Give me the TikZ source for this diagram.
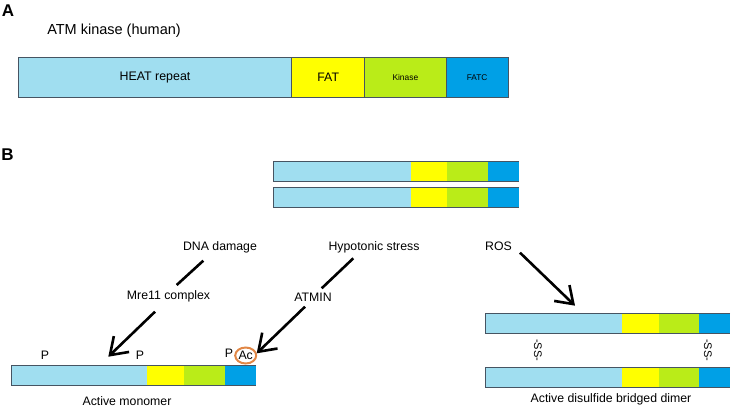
\documentclass[tikz,border=0pt]{standalone}
\usepackage{fontspec}
\setmainfont{Liberation Sans}
\usetikzlibrary{arrows.meta,shapes.geometric}
\definecolor{heat}{RGB}{160,222,240}
\definecolor{fat}{RGB}{255,255,0}
\definecolor{kin}{RGB}{186,236,24}
\definecolor{fatc}{RGB}{0,160,230}
\definecolor{edgec}{RGB}{70,84,98}
\definecolor{acring}{RGB}{225,135,70}
\tikzset{
  lbl/.style={font=\fontsize{12.3pt}{14pt}\selectfont, inner sep=0pt, outer sep=0pt},
  panel/.style={font=\fontsize{17pt}{20pt}\selectfont\bfseries, inner sep=0pt},
  segA/.style={draw=edgec, line width=1pt, minimum height=40.3pt, inner sep=0pt, outer sep=0pt, anchor=north west},
  stim/.style={line width=2.6pt, black},
  stimarrow/.style={stim, -{Straight Barb[length=16pt,width=22pt]}},
  barline/.style={draw=edgec, line width=1pt},
}
\newcommand\atmbar[7]{%
  \fill[heat] (#1,#6) rectangle (#2,#7);
  \fill[fat] (#2,#6) rectangle (#3,#7);
  \fill[kin] (#3,#6) rectangle (#4,#7);
  \fill[fatc] (#4,#6) rectangle (#5,#7);
  \draw[barline] (#5,#6) -- (#1,#6) -- (#1,#7) -- (#5,#7);
}
\begin{document}
\begin{tikzpicture}[x=1pt,y=-1pt]
\useasboundingbox (0,0) rectangle (733,407);
% Panel A
\node[panel] (A) at (8,11) {A};
\node[lbl, font=\fontsize{14.5pt}{16pt}\selectfont] (title) at (114,31) {ATM kinase (human)};
\node[segA, fill=heat, minimum width=273.4pt] (heatA) at (18.3,57.3) {\fontsize{12.4pt}{14pt}\selectfont HEAT repeat};
\node[segA, fill=fat, minimum width=73pt] (fatA) at (heatA.north east) {\fontsize{12.3pt}{14pt}\selectfont FAT};
\node[segA, fill=kin, minimum width=81.3pt] (kinA) at (fatA.north east) {\fontsize{8.4pt}{10pt}\selectfont Kinase};
\node[segA, fill=fatc, minimum width=62.3pt] (fatcA) at (kinA.north east) {\fontsize{8.3pt}{10pt}\selectfont FATC};
% Panel B
\node[panel] (B) at (7.5,154.5) {B};
\atmbar{273}{411}{447}{488}{519}{161}{181}
\atmbar{273}{411}{447}{488}{519}{187}{207}
\atmbar{11}{147}{184}{225}{256}{365}{385.5}
\atmbar{485}{622}{659}{699}{730}{313}{333}
\atmbar{485}{622}{659}{699}{730}{367}{387}
% labels
\node[lbl] (dna) at (220,247.5) {DNA damage};
\node[lbl] (mre) at (168.5,296) {Mre11 complex};
\node[lbl] (hypo) at (374,247.5) {Hypotonic stress};
\node[lbl] (atmin) at (313,297) {ATMIN};
\node[lbl] (ros) at (498.5,246) {ROS};
\node[lbl] (mono) at (127,401) {Active monomer};
\node[lbl] (dimer) at (611,399) {Active disulfide bridged dimer};
\node[lbl] (p1) at (45,355) {P};
\node[lbl] (p2) at (140,355) {P};
\node[lbl] (p3) at (229,353.5) {P};
\node[lbl, ellipse, draw=acring, line width=2pt, minimum width=21pt, minimum height=16pt] (ac) at (245.7,355.5) {Ac};
\node[lbl, font=\fontsize{11pt}{12pt}\selectfont, rotate=-90] (ss1) at (538,350) {-SS-};
\node[lbl, font=\fontsize{11pt}{12pt}\selectfont, rotate=-90] (ss2) at (708,350) {-SS-};
% connectors
\coordinate (d1) at (203.3,260.7);
\coordinate (d2) at (176.7,285);
\coordinate (m1) at (155,311.7);
\coordinate (m2) at (108.3,356.7);
\coordinate (h1) at (353.3,258.3);
\coordinate (h2) at (321.7,288.3);
\coordinate (a1) at (305,306.7);
\coordinate (a2) at (256.7,353.3);
\coordinate (r1) at (520,252.7);
\coordinate (r2) at (575,305.7);
\draw[stim] (d1) -- (d2);
\draw[stimarrow] (m1) -- (m2);
\draw[stim] (h1) -- (h2);
\draw[stimarrow] (a1) -- (a2);
\draw[stimarrow] (r1) -- (r2);
\end{tikzpicture}
\end{document}
